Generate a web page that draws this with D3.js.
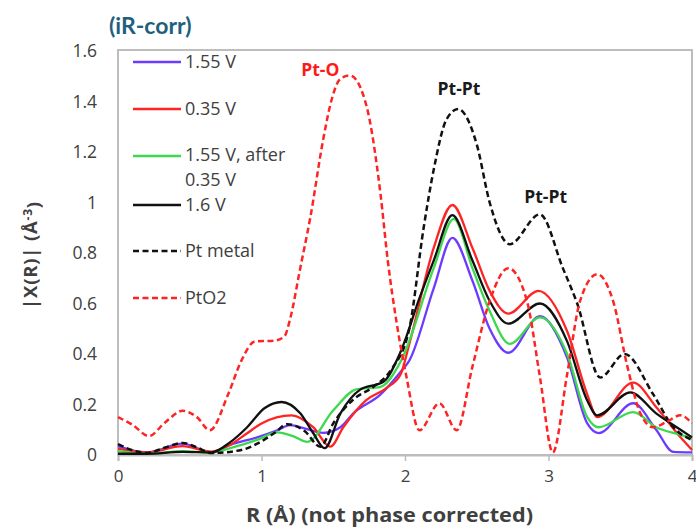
<!DOCTYPE html>
<html><head><meta charset="utf-8">
<script src="https://cdn.jsdelivr.net/npm/d3@7"></script>
<style>
html,body{margin:0;padding:0;background:#fff;}
svg{display:block;font-family:"Open Sans",sans-serif;}
</style></head>
<body><svg id="c" width="696" height="532"></svg>
<script>
// ---- data (R in Å, |X(R)| in Å^-3) ----
const xTicks = [0, 1, 2, 3, 4];
const yTicks = [0, 0.2, 0.4, 0.6, 0.8, 1, 1.2, 1.4, 1.6];

const r155 = [0,0.2,0.45,0.65,0.78,0.97,1.11,1.2,1.3,1.43,1.55,1.64,1.83,1.97,2.03,2.2,2.33,2.47,2.59,2.72,2.94,3.13,3.27,3.35,3.59,3.75,3.87,4.0];
const v155 = [0.035,0.01,0.045,0.01,0.04,0.07,0.098,0.118,0.105,0.088,0.11,0.165,0.24,0.33,0.374,0.66,0.86,0.69,0.5,0.405,0.55,0.385,0.125,0.087,0.205,0.1,0.012,0.01];

const r035 = [0,0.2,0.45,0.65,0.78,0.9,1.0,1.21,1.36,1.48,1.57,1.73,1.87,1.97,2.03,2.2,2.33,2.47,2.59,2.72,2.93,3.13,3.27,3.34,3.59,3.75,3.92,4.0];
const v035 = [0.025,0.01,0.035,0.013,0.04,0.086,0.125,0.157,0.11,0.033,0.11,0.217,0.265,0.32,0.44,0.82,0.99,0.82,0.65,0.56,0.65,0.49,0.24,0.15,0.287,0.19,0.07,0.02];

const rAfter = [0,0.2,0.45,0.65,0.8,0.97,1.11,1.22,1.32,1.5,1.66,1.83,1.97,2.2,2.34,2.47,2.59,2.73,2.94,3.13,3.27,3.35,3.59,3.75,3.92,4.0];
const vAfter = [0.015,0.005,0.015,0.01,0.03,0.06,0.09,0.075,0.052,0.177,0.26,0.27,0.37,0.74,0.935,0.74,0.57,0.44,0.545,0.4,0.15,0.11,0.17,0.11,0.08,0.067];

const r16 = [0,0.2,0.45,0.65,0.78,0.9,1.02,1.14,1.27,1.36,1.44,1.55,1.69,1.85,1.97,2.1,2.2,2.33,2.47,2.59,2.72,2.94,3.13,3.27,3.34,3.57,3.75,3.92,4.0];
const v16 = [0.005,0.005,0.012,0.01,0.05,0.11,0.185,0.21,0.165,0.087,0.027,0.165,0.26,0.29,0.41,0.62,0.77,0.95,0.77,0.61,0.52,0.6,0.45,0.216,0.157,0.248,0.165,0.1,0.07];

const rPt = [0,0.2,0.33,0.45,0.55,0.65,0.86,0.97,1.09,1.18,1.3,1.41,1.5,1.64,1.78,1.9,2.03,2.13,2.2,2.29,2.37,2.5,2.59,2.73,2.94,3.1,3.2,3.36,3.53,3.73,3.87,4.0];
const vPt = [0.043,0.008,0.03,0.048,0.03,0.008,0.02,0.045,0.087,0.122,0.095,0.033,0.125,0.22,0.27,0.335,0.5,0.9,1.13,1.33,1.37,1.23,1.0,0.835,0.953,0.74,0.6,0.307,0.40,0.24,0.11,0.06];

const rPtO2 = [0,0.1,0.215,0.33,0.45,0.55,0.64,0.77,0.86,0.955,1.09,1.16,1.2,1.27,1.34,1.43,1.49,1.55,1.617,1.73,1.83,1.88,1.94,2.01,2.1,2.24,2.36,2.47,2.59,2.72,2.85,2.94,3.03,3.13,3.22,3.34,3.45,3.55,3.64,3.73,3.82,3.92,4.0];
const vPtO2 = [0.15,0.12,0.075,0.13,0.175,0.15,0.098,0.244,0.374,0.45,0.453,0.47,0.54,0.74,0.94,1.25,1.41,1.49,1.503,1.386,1.03,0.77,0.53,0.31,0.098,0.205,0.098,0.35,0.61,0.74,0.61,0.31,0.01,0.32,0.61,0.716,0.61,0.35,0.165,0.11,0.13,0.157,0.125];

const seriesNames = ["1.55 V", "0.35 V", "1.55 V, after 0.35 V", "1.6 V", "Pt metal", "PtO2"];
const annotations = [
  {text: "Pt-O", r: 1.41, v: 1.524, color: "#ff1a1a"},
  {text: "Pt-Pt", r: 2.376, v: 1.449, color: "#1a1a1a"},
  {text: "Pt-Pt", r: 2.98, v: 1.024, color: "#1a1a1a"}
];

// ---- layout ----
const svg = d3.select("#c");
const L = 118, R = 692, T = 50, B = 455;
const x = d3.scaleLinear().domain([0, 4]).range([L, R]);
const y = d3.scaleLinear().domain([0, 1.6]).range([B, T + 1]);
const FONT = "'Open Sans',sans-serif";

const series = [
  {name: seriesNames[0], r: r155, v: v155, color: "#6b3cff", dash: null},
  {name: seriesNames[1], r: r035, v: v035, color: "#ff2424", dash: null},
  {name: seriesNames[2], r: rAfter, v: vAfter, color: "#3ed84e", dash: null},
  {name: seriesNames[3], r: r16, v: v16, color: "#111111", dash: null},
  {name: seriesNames[4], r: rPt, v: vPt, color: "#111111", dash: "6,3.5"},
  {name: seriesNames[5], r: rPtO2, v: vPtO2, color: "#ff2424", dash: "6,3.5"}
];

// frame
svg.append("rect").attr("x", L).attr("y", T).attr("width", R - L).attr("height", B - T)
  .attr("fill", "none").attr("stroke", "#bdbdbd").attr("stroke-width", 2);

// x axis
const xAxis = d3.axisBottom(x).tickValues(xTicks).tickFormat(d3.format("d")).tickSize(6).tickPadding(9);
const gx = svg.append("g").attr("transform", `translate(0,${B})`).call(xAxis);
gx.select(".domain").attr("stroke", "#bdbdbd").attr("stroke-width", 2);
gx.selectAll(".tick line").attr("stroke", "#bdbdbd").attr("stroke-width", 1.5);
gx.selectAll("text").attr("fill", "#404040").style("font-size", "17px").style("font-family", FONT);

// y axis
const yAxis = d3.axisLeft(y).tickValues(yTicks).tickFormat(d => d === 0 ? "0" : (d % 1 === 0 ? d3.format("d")(d) : d3.format(".1f")(d))).tickSize(0).tickPadding(21);
const gy = svg.append("g").attr("transform", `translate(${L},0)`).call(yAxis);
gy.select(".domain").remove();
gy.selectAll("text").attr("fill", "#404040").style("font-size", "17.5px").style("font-family", FONT);

// lines
const line = (s) => d3.line().x((d, i) => x(s.r[i])).y((d) => y(d)).curve(d3.curveMonotoneX)(s.v);
const plot = svg.append("g");
series.forEach(s => {
  plot.append("path").attr("d", line(s)).attr("fill", "none")
    .attr("stroke", s.color).attr("stroke-width", s.dash ? 2.5 : 2.3)
    .attr("stroke-dasharray", s.dash).attr("stroke-linejoin", "round");
});

// legend
const legY = [62, 109, 156, 205, 251, 298];
const leg = svg.append("g");
series.forEach((s, i) => {
  const yy = legY[i];
  leg.append("line").attr("x1", 133).attr("x2", 181).attr("y1", yy).attr("y2", yy)
    .attr("stroke", s.color).attr("stroke-width", 2.5).attr("stroke-dasharray", s.dash);
});
const legText = leg.append("g").attr("fill", "#404040").style("font-family", FONT).style("font-size", "18px");
const parts = seriesNames[2].split(", after ");
const legRows = [
  [62, seriesNames[0]], [109, seriesNames[1]], [155, parts[0] + ", after"], [180, parts[1]],
  [205, seriesNames[3]], [251, seriesNames[4]], [298, seriesNames[5]]
];
legRows.forEach(([yy, t]) => {
  legText.append("text").attr("x", 185).attr("y", yy).attr("dy", "0.35em").text(t);
});

// annotations
annotations.forEach(a => {
  svg.append("text").attr("x", x(a.r)).attr("y", y(a.v)).attr("dy", "0.35em")
    .attr("text-anchor", "middle").attr("fill", a.color)
    .style("font-size", "17.5px").style("font-weight", "bold").style("font-family", FONT)
    .text(a.text);
});

// title
svg.append("text").attr("x", 109).attr("y", 34).attr("fill", "#1f5f7e")
  .style("font-size", "23px").style("font-weight", "bold").style("font-family", "Lato,sans-serif")
  .text("(iR-corr)");

// axis titles
svg.append("text").attr("x", 246).attr("y", 522).attr("fill", "#404040")
  .attr("textLength", 287).attr("lengthAdjust", "spacingAndGlyphs")
  .style("font-size", "19px").style("font-weight", "bold").style("font-family", FONT)
  .text("R (Å) (not phase corrected)");
const yt = svg.append("text").attr("transform", "translate(37,255) rotate(-90)").attr("text-anchor", "middle")
  .attr("fill", "#404040").style("font-size", "18.5px").style("font-weight", "bold")
  .style("letter-spacing", "0.8px").style("font-family", FONT);
yt.append("tspan").text("|X(R)|  (Å");
yt.append("tspan").attr("dy", "-0.45em").style("font-size", "12px").text("-3");
yt.append("tspan").attr("dy", "0.45em").text(")");
</script></body></html>
